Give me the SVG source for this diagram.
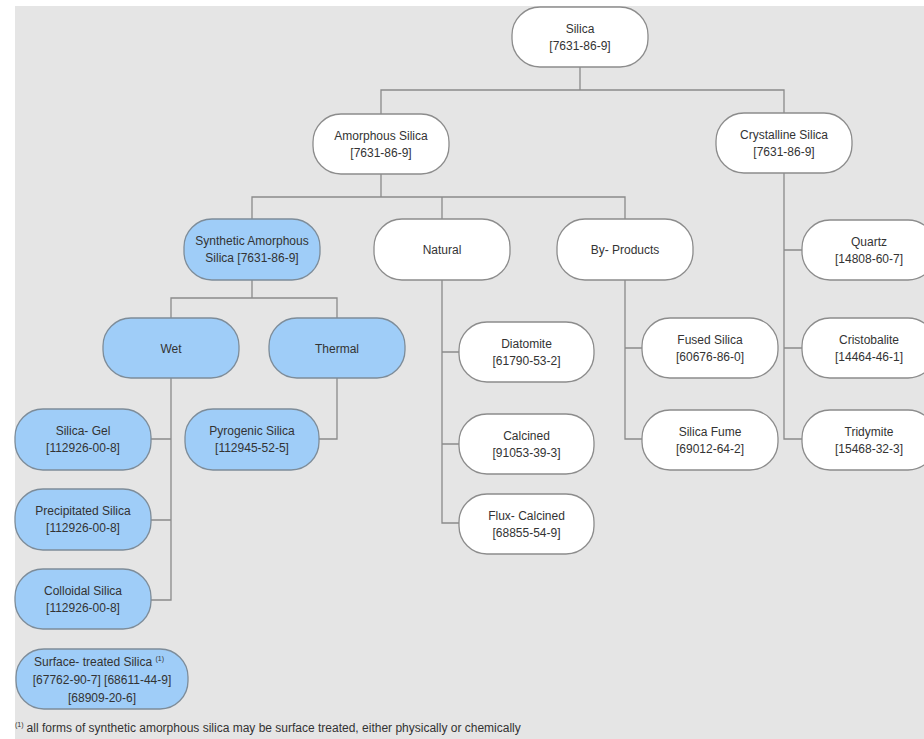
<svg xmlns="http://www.w3.org/2000/svg" width="924" height="739" viewBox="0 0 924 739">
<style>
.n{fill:#ffffff;stroke:#8c8c8c;stroke-width:1.3}
.b{fill:#9fcdf8;stroke:#7d8c99;stroke-width:1.3}
.t{font-family:"Liberation Sans",Arial,sans-serif;font-size:12px;fill:#333;text-anchor:middle}
.s{font-size:7px}
.c{fill:none;stroke:#8a8a8a;stroke-width:1.3}
.f{font-family:"Liberation Sans",Arial,sans-serif;font-size:12px;fill:#333}
</style>
<rect x="0" y="0" width="924" height="739" fill="#ffffff"/>
<rect x="15" y="6" width="909" height="733" fill="#e5e5e5"/>
<g id="connectors">
<path class="c" d="M580,67 V90 M381,114 V90 H784 V113"/>
<path class="c" d="M381,174 V197 M252,219 V197 H625 V219 M442,197 V219"/>
<path class="c" d="M252,280 V298 M171,318 V298 H337 V318"/>
<path class="c" d="M171,378 V600 H151 M171,439 H151 M171,520 H151"/>
<path class="c" d="M337,378 V439 H319"/>
<path class="c" d="M442,280 V523 H459 M442,352 H459 M442,444 H459"/>
<path class="c" d="M625,280 V439 H642 M625,348 H642"/>
<path class="c" d="M784,173 V439 H802 M784,250 H802 M784,348 H802"/>
</g>
<g id="silica"><rect class="n" x="512" y="7" width="136" height="60" rx="28"/><text class="t" x="580" y="32.5">Silica</text><text class="t" x="580" y="49.5">[7631-86-9]</text></g>
<g id="amorphous"><rect class="n" x="313" y="114" width="136" height="60" rx="28"/><text class="t" x="381" y="139.5">Amorphous Silica</text><text class="t" x="381" y="156.5">[7631-86-9]</text></g>
<g id="crystalline"><rect class="n" x="716" y="113" width="136" height="60" rx="28"/><text class="t" x="784" y="138.5">Crystalline Silica</text><text class="t" x="784" y="155.5">[7631-86-9]</text></g>
<g id="synthetic"><rect class="b" x="184" y="219" width="136" height="61" rx="28"/><text class="t" x="252" y="245">Synthetic Amorphous</text><text class="t" x="252" y="262">Silica [7631-86-9]</text></g>
<g id="natural"><rect class="n" x="374" y="219" width="136" height="61" rx="28"/><text class="t" x="442" y="254">Natural</text></g>
<g id="byproducts"><rect class="n" x="557" y="219" width="136" height="61" rx="28"/><text class="t" x="625" y="254">By- Products</text></g>
<g id="wet"><rect class="b" x="103" y="318" width="136" height="60" rx="28"/><text class="t" x="171" y="352.5">Wet</text></g>
<g id="thermal"><rect class="b" x="269" y="318" width="136" height="60" rx="28"/><text class="t" x="337" y="352.5">Thermal</text></g>
<g id="silicagel"><rect class="b" x="15" y="409" width="136" height="61" rx="28"/><text class="t" x="83" y="435">Silica- Gel</text><text class="t" x="83" y="452">[112926-00-8]</text></g>
<g id="precipitated"><rect class="b" x="15" y="489" width="136" height="61" rx="28"/><text class="t" x="83" y="515">Precipitated Silica</text><text class="t" x="83" y="532">[112926-00-8]</text></g>
<g id="colloidal"><rect class="b" x="15" y="569" width="136" height="60" rx="28"/><text class="t" x="83" y="594.5">Colloidal Silica</text><text class="t" x="83" y="611.5">[112926-00-8]</text></g>
<g id="surface"><rect class="b" x="16" y="649" width="172" height="60" rx="28"/><text class="t" x="99" y="666">Surface- treated Silica <tspan class="s" dy="-5">(1)</tspan></text><text class="t" x="102" y="684">[67762-90-7] [68611-44-9]</text><text class="t" x="102" y="702">[68909-20-6]</text></g>
<g id="pyrogenic"><rect class="b" x="185" y="409" width="134" height="61" rx="28"/><text class="t" x="252" y="435">Pyrogenic Silica</text><text class="t" x="252" y="452">[112945-52-5]</text></g>
<g id="diatomite"><rect class="n" x="459" y="322" width="135" height="60" rx="28"/><text class="t" x="526.5" y="347.5">Diatomite</text><text class="t" x="526.5" y="364.5">[61790-53-2]</text></g>
<g id="calcined"><rect class="n" x="459" y="414" width="135" height="60" rx="28"/><text class="t" x="526.5" y="439.5">Calcined</text><text class="t" x="526.5" y="456.5">[91053-39-3]</text></g>
<g id="fluxcalcined"><rect class="n" x="459" y="494" width="135" height="60" rx="28"/><text class="t" x="526.5" y="519.5">Flux- Calcined</text><text class="t" x="526.5" y="536.5">[68855-54-9]</text></g>
<g id="fused"><rect class="n" x="642" y="318" width="136" height="60" rx="28"/><text class="t" x="710" y="343.5">Fused Silica</text><text class="t" x="710" y="360.5">[60676-86-0]</text></g>
<g id="fume"><rect class="n" x="642" y="410" width="136" height="60" rx="28"/><text class="t" x="710" y="435.5">Silica Fume</text><text class="t" x="710" y="452.5">[69012-64-2]</text></g>
<g id="quartz"><rect class="n" x="802" y="220" width="134" height="60" rx="28"/><text class="t" x="869" y="245.5">Quartz</text><text class="t" x="869" y="262.5">[14808-60-7]</text></g>
<g id="cristobalite"><rect class="n" x="802" y="318" width="134" height="60" rx="28"/><text class="t" x="869" y="343.5">Cristobalite</text><text class="t" x="869" y="360.5">[14464-46-1]</text></g>
<g id="tridymite"><rect class="n" x="802" y="410" width="134" height="60" rx="28"/><text class="t" x="869" y="435.5">Tridymite</text><text class="t" x="869" y="452.5">[15468-32-3]</text></g>
<g id="footnote"><text class="f" x="15" y="732"><tspan font-size="7" dy="-5">(1)</tspan><tspan dy="5" dx="3">all forms of synthetic amorphous silica may be surface treated, either physically or chemically</tspan></text></g>
</svg>
